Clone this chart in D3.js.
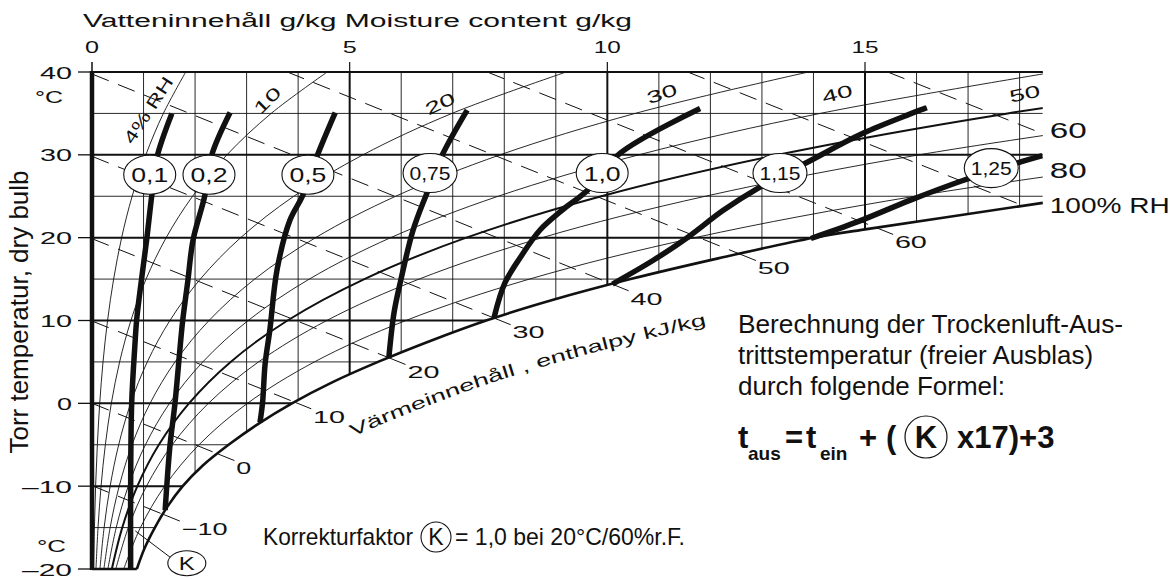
<!DOCTYPE html>
<html>
<head>
<meta charset="utf-8">
<script src="https://cdn.jsdelivr.net/npm/d3@7"></script>
<style>
  body { margin: 0; background: #fff; }
  svg { display: block; }
  text { font-family: "Liberation Sans", Arial, sans-serif; fill: #111; }
</style>
</head>
<body>
<svg id="chart" width="1170" height="579"></svg>
<script>
// ---- values (x = moisture g/kg, y = dry bulb °C) ----
const xMax = 18.45;
const xTicks = [0, 5, 10, 15];
const yTicks = [40, 30, 20, 10, 0, -10, -20];
const yTickLabels = ['40', '30', '20', '10', '0', '\u201310', '\u201320'];
const gridG = d3.range(0, 19);
const gridT = d3.range(-20, 41, 5);

// saturation (100% RH)
const saturation = [[0.87,-20],[1.02,-17.5],[1.22,-15],[1.46,-12.5],[1.76,-10],[2.15,-7.5],[2.65,-5],
  [3.22,-2.5],[3.88,0],[4.65,2.5],[5.55,5],[6.55,7.5],[7.65,10],[8.95,12.5],[10.45,15],[12.15,17.5],
  [14.0,20],[15.0,21],[18.45,24.2]];

// relative humidity lines, g/kg at these temperatures
const tRH = [-20,-15,-10,-5,0,5,10,15,20,25,30,35,40];
const rh4  = [0.031,0.047,0.070,0.104,0.150,0.214,0.302,0.420,0.575,0.779,1.045,1.385,1.819];
const rh10 = [0.077,0.117,0.176,0.259,0.375,0.536,0.755,1.049,1.439,1.952,2.618,3.477,4.565];
const rh20 = [0.154,0.235,0.352,0.518,0.751,1.073,1.512,2.102,2.885,3.916,5.258,6.985,9.202];
const rh30 = [0.231,0.352,0.528,0.777,1.127,1.611,2.271,3.157,4.338,5.893,7.920,10.54,13.90];
const rh40 = [0.308,0.470,0.704,1.037,1.504,2.150,3.030,4.217,5.796,7.882,10.61,14.13,18.68];
const rh50 = [0.385,0.587,0.880,1.297,1.882,2.690,3.794,5.285,7.264,9.883,13.31,17.77,23.52];
const rh60 = [0.462,0.705,1.057,1.557,2.259,3.231,4.556,6.347,8.735,11.90,16.05,21.45];
const rh80 = [0.616,0.940,1.410,2.077,3.016,4.316,6.091,8.489,11.70,15.97,21.58];

// enthalpy kJ/kg, dashed lines: start and end points
const enthalpy   = [-10, 0, 10, 20, 30, 40, 50, 60, 70, 80];
const enthLabels = ['\u221210','0','10','20','30','40','50','60', '', ''];
const enthStart  = [[0,-9.94],[0,0],[0,9.94],[0,19.88],[0,29.82],[0,39.76],[3.79,40],[7.67,40],[11.56,40],[15.44,40]];
const enthEnd    = [[1.38,-13.4],[2.44,-6.1],[3.93,0.15],[5.76,5.5],[7.8,10.3],[10.09,14.4],[12.56,18.05],[15.22,21.2],[18.07,23.86],[18.45,32.55]];

// correction factor K curves
const kNames = ['0,1','0,2','0,5','0,75','1,0','1,15','1,25'];
const kCurves = [
  [[0.75,-20],[0.75,-10],[0.77,0],[0.83,6.8],[0.87,10.3],[0.96,14.9],[1.06,19.7],[1.16,25.1],[1.26,29.7],[1.55,35]],
  [[1.42,-12.9],[1.51,-5.3],[1.61,0],[1.71,6.8],[1.76,10],[1.86,14.8],[1.96,19.7],[2.19,25.1],[2.32,29.9],[2.68,35.1]],
  [[3.26,-2.3],[3.31,0.1],[3.36,4.8],[3.45,8.8],[3.59,16.1],[3.84,22.1],[4.09,25.1],[4.37,29.9],[4.72,35.1]],
  [[5.76,5.5],[5.86,10.9],[5.99,14.8],[6.23,20.9],[6.50,25.4],[6.79,29.9],[7.28,35.4]],
  [[7.8,10.3],[8.01,14.5],[8.31,17.6],[8.69,20.9],[9.12,23.3],[9.61,25.7],[10.25,30.2],[11.80,35.6]],
  [[10.1,14.4],[10.9,17.3],[11.55,20],[12.25,23.3],[12.96,26.1],[13.88,29.1],[14.96,32.6],[16.20,35.7]],
  [[13.95,19.9],[14.85,21.9],[15.87,24.5],[16.90,26.9],[17.95,29.0],[18.44,29.9]]
];
const kLabelAt = [[1.12,27.6],[2.27,27.6],[4.19,27.6],[6.56,27.8],[9.9,27.8],[13.35,27.8],[17.45,28.4]];

// RH labels
const rhTopLabels = ['4% RH', '10', '20', '30', '40', '50'];
const rhTopAt = [[1.09,35.4],[3.4,36.6],[6.75,36.2],[11.06,37.4],[14.46,37.4],[18.1,37.4]];
const rhTopRot = [-57, -45, -25, -18, -15, -12];
const rhRightLabels = ['60', '80', '100% RH'];
const rhRightT = [33.0, 28.2, 24.0];

// ---- drawing ----
const svg = d3.select('#chart');
const x = d3.scaleLinear().domain([0, 15]).range([92, 865]);
const y = d3.scaleLinear().domain([-20, 40]).range([569, 72]);
const px = d => x(d[0]), py = d => y(d[1]);
const smooth = d3.line().x(px).y(py).curve(d3.curveCatmullRom.alpha(0.5));
const straight = d3.line().x(px).y(py);
const ink = '#111';

function label(sel, s, xx, yy, size, len, anchor) {
  const t = sel.append('text').attr('x', xx).attr('y', yy)
    .style('font-size', size + 'px').attr('text-anchor', anchor || 'start').text(s);
  if (len) t.attr('textLength', len).attr('lengthAdjust', 'spacingAndGlyphs');
  return t;
}

// clip: area above/left of the saturation curve
const satRev = saturation.slice().reverse();
svg.append('clipPath').attr('id', 'plot').append('path')
  .attr('d', smooth(satRev) + `L${x(0)},${y(-20)}L${x(0)},${y(40)}L${x(xMax)},${y(40)}Z`);

const grid = svg.append('g').attr('clip-path', 'url(#plot)');
gridG.forEach(g => {
  grid.append('line').attr('x1', x(g)).attr('x2', x(g)).attr('y1', y(40)).attr('y2', y(-20))
    .attr('stroke', ink).attr('stroke-width', g % 5 === 0 ? 2 : 0.9);
});
gridT.forEach(t => {
  grid.append('line').attr('x1', x(0)).attr('x2', x(xMax)).attr('y1', y(t)).attr('y2', y(t))
    .attr('stroke', ink).attr('stroke-width', t % 10 === 0 ? 2 : 0.9);
});

// RH lines
const rhSeries = [[4, rh4], [10, rh10], [20, rh20], [30, rh30], [40, rh40], [50, rh50], [60, rh60], [80, rh80]];
rhSeries.forEach(([rh, gs]) => {
  grid.append('path').attr('d', smooth(gs.map((g, i) => [g, tRH[i]])))
    .attr('fill', 'none').attr('stroke', ink).attr('stroke-width', rh === 50 ? 2 : 0.9);
});

// enthalpy dashed lines with a short solid tick and label past the saturation curve
enthalpy.forEach((h, i) => {
  const a = enthStart[i], b = enthEnd[i];
  svg.append('path').attr('d', straight([a, b])).attr('fill', 'none')
    .attr('stroke', ink).attr('stroke-width', 1).attr('stroke-dasharray', '18,10');
  if (!enthLabels[i]) return;
  const dx = x(b[0]) - x(a[0]), dy = y(b[1]) - y(a[1]);
  const L = Math.hypot(dx, dy), ux = dx / L, uy = dy / L;
  const ex = x(b[0]), ey = y(b[1]);
  svg.append('line').attr('x1', ex).attr('y1', ey).attr('x2', ex + ux * 18).attr('y2', ey + uy * 18)
    .attr('stroke', ink).attr('stroke-width', 1);
  const s = enthLabels[i];
  label(svg, s, ex + ux * 20, ey + uy * 20 + 13, 17, s.length === 1 ? 15 : s.length === 2 ? 32 : 46);
});

// saturation curve
svg.append('path').attr('d', smooth(saturation)).attr('fill', 'none')
  .attr('stroke', ink).attr('stroke-width', 2.6);

// borders
svg.append('line').attr('x1', x(0)).attr('x2', x(xMax)).attr('y1', y(40)).attr('y2', y(40))
  .attr('stroke', ink).attr('stroke-width', 2);
svg.append('line').attr('x1', x(0)).attr('x2', x(0)).attr('y1', y(40) - 1).attr('y2', y(-20) + 1)
  .attr('stroke', ink).attr('stroke-width', 4.5);
svg.append('line').attr('x1', x(0)).attr('x2', x(saturation[0][0])).attr('y1', y(-20)).attr('y2', y(-20))
  .attr('stroke', ink).attr('stroke-width', 2.5);

// K curves
kCurves.forEach(c => {
  svg.append('path').attr('d', smooth(c)).attr('fill', 'none')
    .attr('stroke', ink).attr('stroke-width', 5.5);
});
kLabelAt.forEach((p, i) => {
  const cx = x(p[0]), cy = y(p[1]);
  const s = kNames[i];
  svg.append('ellipse').attr('cx', cx).attr('cy', cy).attr('rx', s.length > 3 ? 27 : 26).attr('ry', 19.5)
    .attr('fill', '#fff').attr('stroke', ink).attr('stroke-width', 1.1);
  label(svg, s, cx, cy + (s.length > 3 ? 6.5 : 7.5), s.length > 3 ? 18 : 21, s.length > 3 ? 41 : 37, 'middle');
});

// K marker bottom left
svg.append('path').attr('d', straight([[0.84, -15.4], [1.52, -18.6]])).attr('stroke', ink).attr('stroke-width', 1);
svg.append('ellipse').attr('cx', x(1.84)).attr('cy', y(-19.3)).attr('rx', 19).attr('ry', 12.5)
  .attr('fill', '#fff').attr('stroke', ink).attr('stroke-width', 1.1);
label(svg, 'K', x(1.84), y(-19.3) + 6.5, 18, 16, 'middle');

// axes: ticks and labels
xTicks.forEach(v => {
  svg.append('line').attr('x1', x(v)).attr('x2', x(v)).attr('y1', 62).attr('y2', y(40))
    .attr('stroke', ink).attr('stroke-width', v === 0 ? 1.5 : 1.2);
  label(svg, String(v), x(v), 53, 16, v < 10 ? 14 : 27, 'middle');
});
yTicks.forEach((v, i) => {
  svg.append('line').attr('x1', 78).attr('x2', x(0)).attr('y1', y(v)).attr('y2', y(v))
    .attr('stroke', ink).attr('stroke-width', 1.3);
  const s = yTickLabels[i];
  label(svg, s, 72, y(v) + 6.5, 17, s.length === 1 ? 15 : s.length === 2 ? 32 : 50, 'end');
});
label(svg, '\u00b0C', 35, 103, 17, 28);
label(svg, '\u00b0C', 37, 552, 17, 29);

label(svg, 'Vatteninnehåll g/kg  Moisture content g/kg', 83, 27, 18, 549);

svg.append('text').attr('transform', 'translate(28,312) rotate(-90)')
  .attr('text-anchor', 'middle').style('font-size', '25px')
  .attr('textLength', 283).attr('lengthAdjust', 'spacingAndGlyphs')
  .text('Torr temperatur, dry bulb');

// RH labels
rhTopLabels.forEach((s, i) => {
  const p = rhTopAt[i];
  svg.append('text').attr('transform', `translate(${x(p[0])},${y(p[1])}) rotate(${rhTopRot[i]})`)
    .attr('text-anchor', 'middle').attr('dy', '0.36em').style('font-size', '17px')
    .attr('textLength', s.length > 2 ? 76 : 31).attr('lengthAdjust', 'spacingAndGlyphs').text(s);
});
rhRightLabels.forEach((s, i) => {
  label(svg, s, x(xMax) + 7, y(rhRightT[i]) + 8, 22, s.length > 2 ? 120 : 37);
});

// enthalpy title along the saturation curve, laid out on a path then set letter by letter
const titleText = 'Värmeinnehåll , enthalpy kJ/kg';
const titleLen = 372;
const titlePath = d3.line().x(px).y(d => y(d[1]) + 64).curve(d3.curveCatmullRom.alpha(0.5));
svg.append('path').attr('id', 'enthPath').attr('fill', 'none')
  .attr('d', titlePath(saturation.filter(d => d[0] >= 3.2 && d[0] <= 14.2)));
const probe = svg.append('text').style('font-size', '17px').text(titleText);
const stretch = titleLen / probe.node().getComputedTextLength();
probe.remove();
const onPath = svg.append('text').style('font-size', '17px');
onPath.append('textPath').attr('href', '#enthPath').attr('startOffset', 108)
  .attr('textLength', titleLen).attr('lengthAdjust', 'spacingAndGlyphs').text(titleText);
const pathNode = onPath.node();
const letters = svg.append('g');
for (let i = 0; i < titleText.length; i++) {
  if (titleText[i] === ' ') continue;
  const p = pathNode.getStartPositionOfChar(i);
  const r = pathNode.getRotationOfChar(i);
  letters.append('text').style('font-size', '17px')
    .attr('transform', `translate(${p.x},${p.y}) rotate(${r}) scale(${stretch},1)`)
    .text(titleText[i]);
}
onPath.remove();

// notes on the right
['Berechnung der Trockenluft-Aus-', 'trittstemperatur (freier Ausblas)', 'durch folgende Formel:']
  .forEach((s, i) => label(svg, s, 738, [333, 364, 395][i], 26, [385, 355, 267][i]));

const bold = (s, xx, yy, size, anchor) => label(svg, s, xx, yy, size, null, anchor).style('font-weight', 'bold');
bold('t', 738, 448, 31);
bold('aus', 748, 460, 19);
bold('=', 785, 448, 31);
bold('t', 806, 448, 31);
bold('ein', 820, 460, 19);
bold('+', 859, 448, 31);
bold('(', 886, 448, 31);
svg.append('circle').attr('cx', 926).attr('cy', 437).attr('r', 21)
  .attr('fill', 'none').attr('stroke', ink).attr('stroke-width', 1.2);
bold('K', 926, 448, 31, 'middle');
bold('x17)+3', 957, 448, 31);

label(svg, 'Korrekturfaktor', 263, 545, 24, 150);
svg.append('circle').attr('cx', 436).attr('cy', 537).attr('r', 15)
  .attr('fill', 'none').attr('stroke', ink).attr('stroke-width', 1.1);
label(svg, 'K', 436, 545, 23, null, 'middle');
label(svg, '= 1,0 bei 20°C/60%r.F.', 455, 545, 24, 230);
</script>
</body>
</html>
